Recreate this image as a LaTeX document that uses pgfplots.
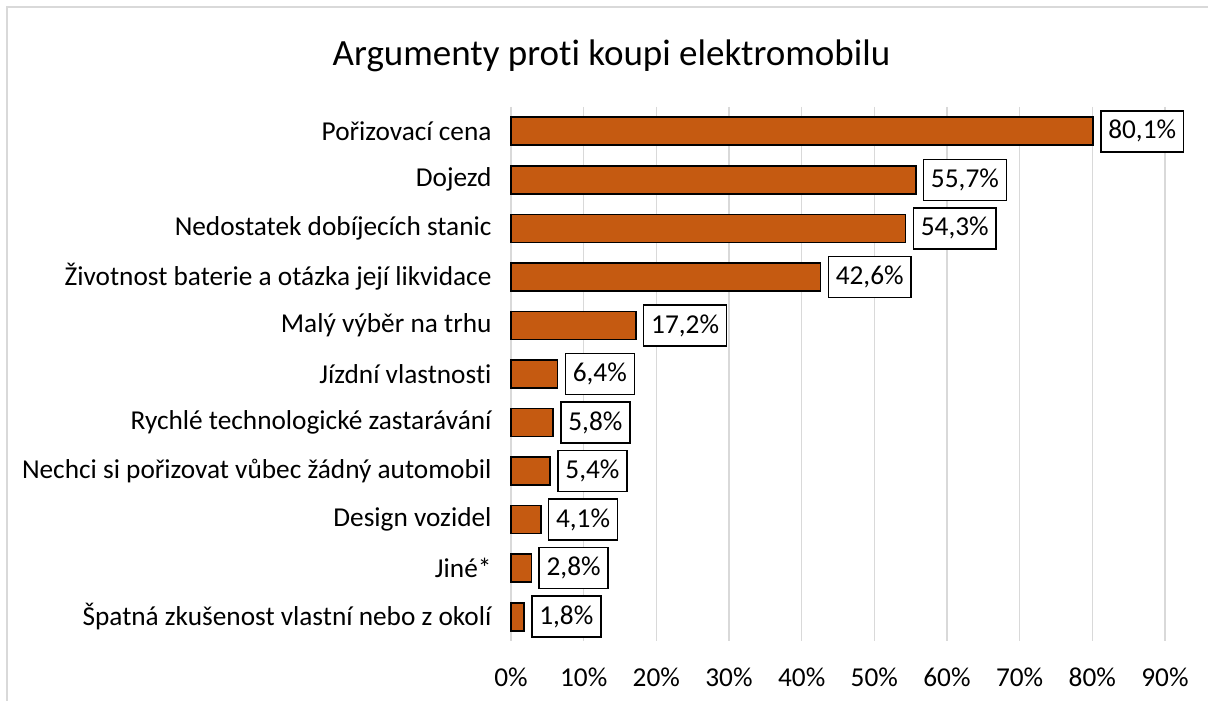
\documentclass[border=0pt]{standalone}
\usepackage{pgfplots}
\pgfplotsset{compat=1.18}
\usepackage{fontspec}
\setmainfont{Carlito}[Ligatures={NoCommon}]
\definecolor{barc}{HTML}{C55A11}
\definecolor{gridc}{HTML}{D9D9D9}
\begin{document}
\begin{tikzpicture}[x=1pt,y=1pt]
\path[use as bounding box] (0,0) rectangle (1208,701);
\draw[gridc,line width=1.5pt] (7,0) -- (7,694) -- (1208,694);
\node[font=\fontsize{37}{40}\selectfont] at (611.5,645) {Argumenty proti koupi elektromobilu};
\begin{axis}[
  at={(511pt,60pt)}, anchor=south west,
  scale only axis, width=654pt, height=534pt,
  xbar, bar width=28pt,
  xmin=0, xmax=90, ymin=-0.5, ymax=10.5, y dir=reverse,
  xtick={0,10,...,90},
  xticklabel={\pgfmathprintnumber{\tick}\%},
  /pgf/number format/assume math mode=true,
  ytick={0,...,10},
  yticklabels={Pořizovací cena,Dojezd,Nedostatek dobíjecích stanic,Životnost baterie a otázka její likvidace,Malý výběr na trhu,Jízdní vlastnosti,Rychlé technologické zastarávání,Nechci si pořizovat vůbec žádný automobil,Design vozidel,Jiné*,Špatná zkušenost vlastní nebo z okolí},
  xticklabel style={font=\fontsize{27.3}{30}\selectfont, text=black, yshift=-23pt},
  yticklabel style={font=\fontsize{27.3}{30}\selectfont, text=black, xshift=-16pt},
  major tick length=0pt,
  xmajorgrids, grid style={gridc,line width=1.5pt},
  axis line style={draw=none},
  clip=false,
  point meta=x,
  nodes near coords={\pgfmathprintnumber[fixed,fixed zerofill,precision=1,use comma]{\pgfplotspointmeta}\%},
  every node near coord/.append style={anchor=west, xshift=7pt, draw=black, line width=1.5pt, fill=white, text=black, font=\fontsize{27.3}{30}\selectfont, inner xsep=7.5pt, minimum height=41pt},
]
\addplot[fill=barc, draw=black, line width=1.6pt] coordinates {
(80.1,0) (55.7,1) (54.3,2) (42.6,3) (17.2,4) (6.4,5) (5.8,6) (5.4,7) (4.1,8) (2.8,9) (1.8,10)};
\end{axis}
\end{tikzpicture}
\end{document}
